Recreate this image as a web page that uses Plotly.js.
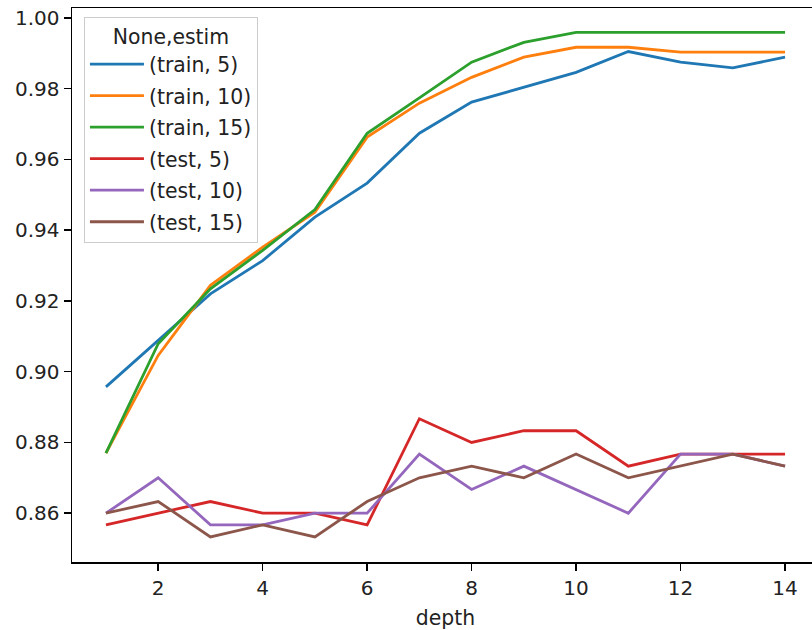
<!DOCTYPE html>
<html>
<head>
<meta charset="utf-8">
<script src="https://cdn.plot.ly/plotly-3.0.1.min.js"></script>
<style>
  html, body { margin: 0; padding: 0; overflow: hidden; background: #fff; }
  #chart { width: 840px; height: 630px; }
</style>
</head>
<body>
<div id="chart"></div>
<script>
// Accuracy by tree depth for train/test splits and number of estimators
const depth = [1, 2, 3, 4, 5, 6, 7, 8, 9, 10, 11, 12, 13, 14];

const train5  = [0.8957, 0.9089, 0.9220, 0.9314, 0.9437, 0.9533, 0.9674, 0.9762, 0.9804, 0.9846, 0.9905, 0.9875, 0.9859, 0.9889];
const train10 = [0.8770, 0.9046, 0.9244, 0.9352, 0.9451, 0.9663, 0.9759, 0.9832, 0.9889, 0.9917, 0.9917, 0.9903, 0.9903, 0.9903];
const train15 = [0.8770, 0.9079, 0.9234, 0.9343, 0.9458, 0.9674, 0.9774, 0.9875, 0.9931, 0.9959, 0.9959, 0.9959, 0.9959, 0.9959];
const test5   = [0.8567, 0.8600, 0.8633, 0.8600, 0.8600, 0.8567, 0.8867, 0.8800, 0.8833, 0.8833, 0.8733, 0.8767, 0.8767, 0.8767];
const test10  = [0.8600, 0.8700, 0.8567, 0.8567, 0.8600, 0.8600, 0.8767, 0.8667, 0.8733, 0.8667, 0.8600, 0.8767, 0.8767, 0.8733];
const test15  = [0.8600, 0.8633, 0.8533, 0.8567, 0.8533, 0.8633, 0.8700, 0.8733, 0.8700, 0.8767, 0.8700, 0.8733, 0.8767, 0.8733];

const seriesNames = ["(train, 5)", "(train, 10)", "(train, 15)", "(test, 5)", "(test, 10)", "(test, 15)"];
const seriesValues = [train5, train10, train15, test5, test10, test15];
const colors = ["#1f77b4", "#ff7f0e", "#2ca02c", "#d62728", "#9467bd", "#8c564b"];

const xTicks = [2, 4, 6, 8, 10, 12, 14];
const yTicks = [0.86, 0.88, 0.90, 0.92, 0.94, 0.96, 0.98, 1.00];

const font = "DejaVu Sans, sans-serif";
const textColor = "#222";

const traces = seriesValues.map((vals, i) => ({
  x: depth,
  y: vals,
  type: "scatter",
  mode: "lines",
  name: seriesNames[i],
  legendgroup: "g" + i,
  line: { color: colors[i], width: 2.8 }
}));

const axisCommon = {
  showline: true,
  linecolor: "#000",
  linewidth: 1.5,
  mirror: true,
  showgrid: false,
  zeroline: false,
  ticks: "outside",
  ticklen: 7,
  tickwidth: 1.5,
  tickcolor: "#000",
  tickfont: { family: font, size: 20, color: textColor }
};

const layout = {
  width: 840,
  height: 630,
  margin: { l: 72, r: 21, t: 8, b: 68 },
  paper_bgcolor: "#fff",
  plot_bgcolor: "#fff",
  showlegend: true,
  xaxis: Object.assign({}, axisCommon, {
    range: [0.35, 14.65],
    tickvals: xTicks,
    ticktext: xTicks.map(String),
    title: { text: "depth", font: { family: font, size: 20.4, color: textColor }, standoff: 12 }
  }),
  yaxis: Object.assign({}, axisCommon, {
    range: [0.8462, 1.0028],
    tickvals: yTicks,
    ticktext: yTicks.map(v => v.toFixed(2))
  }),
  legend: {
    x: 0.016, y: 0.984, xanchor: "left", yanchor: "top",
    bgcolor: "rgba(255,255,255,0.8)",
    bordercolor: "#cccccc",
    borderwidth: 1,
    itemwidth: 54,
    tracegroupgap: 2,
    font: { family: font, size: 20.4, color: textColor },
    title: { text: "None,estim", side: "top center", font: { family: font, size: 20.4, color: textColor } }
  }
};

Plotly.newPlot("chart", traces, layout, { displayModeBar: false, staticPlot: true });
</script>
</body>
</html>
